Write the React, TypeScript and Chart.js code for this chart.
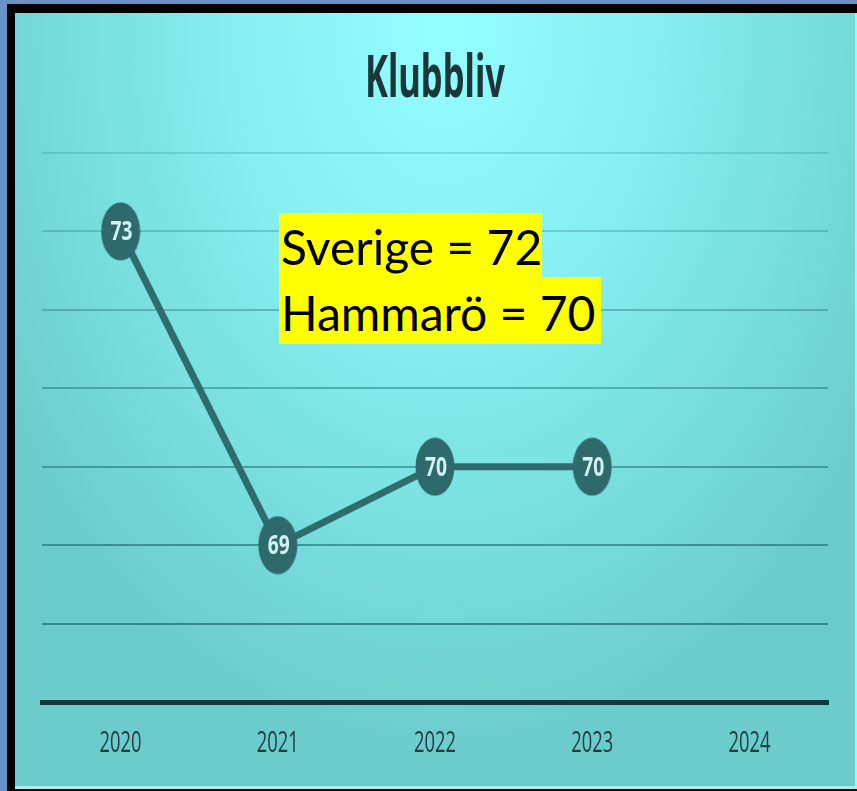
import React, { useEffect, useRef } from "react";
import { Chart, registerables } from "chart.js";

Chart.register(...registerables);

const years = ["2020", "2021", "2022", "2023", "2024"];
const klubbliv: (number | null)[] = [73, 69, 70, 70, null];
const yMin = 67;
const yMax = 74;
const titleText = "Klubbliv";
const annotationLines = ["Sverige = 72", "Hammarö = 70"];

const CANVAS_LEFT = 15;
const CANVAS_TOP = 13;
const CANVAS_W = 842;
const CANVAS_H = 775;

function drawScaledText(
  ctx: CanvasRenderingContext2D,
  text: string,
  refText: string,
  font: string,
  cx: number,
  baseline: number,
  targetW: number,
  targetAscent: number,
  color: string
) {
  ctx.save();
  ctx.font = font;
  const m = ctx.measureText(refText);
  const sx = targetW / m.width;
  const sy = targetAscent / (m.actualBoundingBoxAscent || 1);
  ctx.translate(cx, baseline);
  ctx.scale(sx, sy);
  ctx.textAlign = "center";
  ctx.textBaseline = "alphabetic";
  ctx.fillStyle = color;
  ctx.fillText(text, 0, 0);
  ctx.restore();
}

const textPlugin = {
  id: "klubbText",
  afterDatasetsDraw(chart: any) {
    const ctx = chart.ctx as CanvasRenderingContext2D;
    const meta = chart.getDatasetMeta(0);
    const data = chart.data.datasets[0].data;
    meta.data.forEach((pt: any, i: number) => {
      const v = data[i];
      if (v == null) return;
      drawScaledText(ctx, String(v), "70", 'bold 100px "Open Sans"', pt.x + 1, pt.y + 9, 22, 20, "#d2f3f3");
    });
  },
  afterDraw(chart: any) {
    const ctx = chart.ctx as CanvasRenderingContext2D;
    const xs = chart.scales.x;
    const labels = chart.data.labels as string[];
    labels.forEach((lab, i) => {
      const x = xs.getPixelForValue(i);
      drawScaledText(ctx, lab, "2020", '100px "Open Sans"', x, 739, 42, 21, "#213d42");
    });
    const cx = (chart.chartArea.left + chart.chartArea.right) / 2;
    drawScaledText(ctx, titleText, titleText, 'bold 100px "Noto Sans"', cx, 84, 140, 45, "#1b373b");
  },
};

function makeEllipse(): HTMLCanvasElement {
  const c = document.createElement("canvas");
  c.width = 40;
  c.height = 59;
  const g = c.getContext("2d")!;
  g.fillStyle = "#2e6a6c";
  g.beginPath();
  g.ellipse(20, 29.5, 19.5, 29, 0, 0, Math.PI * 2);
  g.fill();
  return c;
}

export default function App() {
  const ref = useRef<HTMLCanvasElement | null>(null);

  useEffect(() => {
    if (!ref.current) return;
    const ellipse = makeEllipse();
    const chart = new Chart(ref.current, {
      type: "line",
      data: {
        labels: years,
        datasets: [
          {
            data: klubbliv,
            borderColor: "#2f6c6e",
            borderWidth: 7,
            pointStyle: ellipse as any,
            pointRadius: 20,
            tension: 0,
            spanGaps: false,
          },
        ],
      },
      options: {
        responsive: false,
        animation: false,
        layout: { padding: { left: 25, right: 29, top: 140, bottom: 86 } },
        plugins: {
          legend: { display: false },
          tooltip: { enabled: false },
          title: { display: false },
        },
        scales: {
          x: {
            offset: true,
            grid: { display: false, drawTicks: false },
            border: { display: true, color: "#0e3a42", width: 5 },
            ticks: { display: false },
            afterFit: (s: any) => {
              s.height = 0;
            },
          },
          y: {
            min: yMin,
            max: yMax,
            ticks: { display: false, stepSize: 1 },
            grid: {
              drawTicks: false,
              lineWidth: 2,
              color: (c: any) => {
                const v = c.tick ? c.tick.value : yMax;
                const a = 0.2 + ((yMax - v) / (yMax - yMin)) * 0.58;
                return `rgba(25, 105, 110, ${a.toFixed(3)})`;
              },
            },
            border: { display: false },
            afterFit: (s: any) => {
              s.width = 0;
            },
          },
        },
      },
      plugins: [textPlugin],
    });
    return () => chart.destroy();
  }, []);

  const annFont = 48;
  const boxStyle = (top: number, width: number, height: number, padTop: number): React.CSSProperties => ({
    position: "absolute",
    left: 279,
    top,
    width,
    height,
    background: "#ffff00",
    color: "#000",
    fontFamily: "Lato, 'Liberation Sans', sans-serif",
    fontSize: annFont,
    lineHeight: `${annFont}px`,
    paddingTop: padTop,
    paddingLeft: 2,
    boxSizing: "border-box",
    whiteSpace: "nowrap",
    zIndex: 3,
  });

  return (
    <div style={{ position: "absolute", left: 0, top: 0, width: 857, height: 791, background: "#6892c7", overflow: "hidden" }}>
      <div style={{ position: "absolute", left: 7, top: 4, width: 850, height: 787, background: "#000" }} />
      <div
        style={{
          position: "absolute",
          left: CANVAS_LEFT,
          top: CANVAS_TOP,
          width: 840,
          height: 773,
          borderRight: "2px solid #a6f3f3",
          borderBottom: "3px solid #a0f0f0",
          background:
            "radial-gradient(ellipse 62% 95% at 51% 2%, #94ffff 0%, #86efef 40%, #76dbdb 75%, #6ccbcb 100%)",
        }}
      />
      <canvas
        ref={ref}
        width={CANVAS_W}
        height={CANVAS_H}
        style={{ position: "absolute", left: CANVAS_LEFT, top: CANVAS_TOP, width: CANVAS_W, height: CANVAS_H, zIndex: 2 }}
      />
      <div style={boxStyle(213, 263, 64, 10)}>{annotationLines[0]}</div>
      <div style={boxStyle(277, 322, 67, 12)}>{annotationLines[1]}</div>
    </div>
  );
}
